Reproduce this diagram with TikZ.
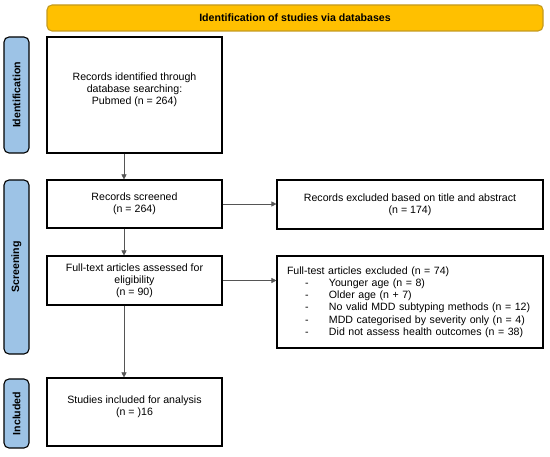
\documentclass[tikz,border=0pt]{standalone}
\usepackage{fontspec}
\setmainfont{Liberation Sans}
\usepackage{tikz}
\usetikzlibrary{arrows.meta,calc}

\definecolor{titlefill}{HTML}{FFC000}
\definecolor{titledraw}{HTML}{C49A1E}
\definecolor{sidefill}{HTML}{9DC3E6}
\definecolor{linegray}{HTML}{555555}

\begin{document}
\begin{tikzpicture}[x=1pt, y=-1pt,
    every node/.style={font=\fontsize{10.6}{12.2}\selectfont, inner sep=0pt},
    box/.style={draw, line width=1.1pt, fill=white, align=center},
    sidebox/.style={draw, line width=1.1pt, fill=sidefill, rounded corners=5pt, rotate=90, minimum height=25pt, font=\fontsize{10.6}{12.2}\selectfont\bfseries},
    flow/.style={draw=linegray, line width=0.6pt, -{Triangle[length=5pt, width=5pt]}}]
            \useasboundingbox (0,0) rectangle (550,457);

            % Header
            \node (head) at (295,18) [draw=titledraw, line width=1.1pt, fill=titlefill, rounded corners=5pt, minimum width=496pt, minimum height=26pt, font=\fontsize{10.6}{12.2}\selectfont\bfseries] {Identification of studies via databases};

            % Stages
            \node (sid1) at (16.5,95) [sidebox, minimum width=116pt] {Identification};
            \node (sid2) at (16.5,267) [sidebox, minimum width=174pt] {Screening};
            \node (sid3) at (16.5,413.5) [sidebox, minimum width=69pt] {Included};

            % Boxes
            \node (iden) at (134.5,95) [box, minimum width=175pt, minimum height=116pt] {Records identified through\\database searching:\\Pubmed (n = 264)\\ \mbox{}};
            \node (screen) at (134.5,204) [box, minimum width=175pt, minimum height=48pt] {Records screened\\(n = 264)};
            \node (full) at (134.5,280.5) [box, minimum width=175pt, minimum height=49pt] {Full-text articles assessed for\\eligibility\\(n = 90)};
            \node (incl) at (134.5,412) [box, minimum width=175pt, minimum height=68pt] {Studies included for analysis\\(n = )16\\ \mbox{}};
            \node (excl1) at (410,204.5) [box, minimum width=266pt, minimum height=49pt] {Records excluded based on title and abstract\\(n = 174)};
            \node (excl2) at (410,302) [box, minimum width=266pt, minimum height=92pt, align=left, text width=246pt] {Full-test articles excluded (n = 74)\\
                \makebox[42pt][l]{\hspace*{18pt}-}Younger age (n = 8)\\
                \makebox[42pt][l]{\hspace*{18pt}-}Older age (n + 7)\\
                \makebox[42pt][l]{\hspace*{18pt}-}No valid MDD subtyping methods (n = 12)\\
                \makebox[42pt][l]{\hspace*{18pt}-}MDD categorised by severity only (n = 4)\\
                \makebox[42pt][l]{\hspace*{18pt}-}Did not assess health outcomes (n = 38)};

            % Arrows
            \draw[flow] ([xshift=-10.5pt]iden.south) -- ([xshift=-10.5pt]screen.north);
            \draw[flow] ([xshift=-10.5pt]screen.south) -- ([xshift=-10.5pt]full.north);
            \draw[flow] ([xshift=-10.5pt]full.south) -- ([xshift=-10.5pt]incl.north);
            \draw[flow] (screen.east) -- (screen.east -| excl1.west);
            \draw[flow] (full.east) -- (full.east -| excl2.west);
        \end{tikzpicture}
\end{document}
